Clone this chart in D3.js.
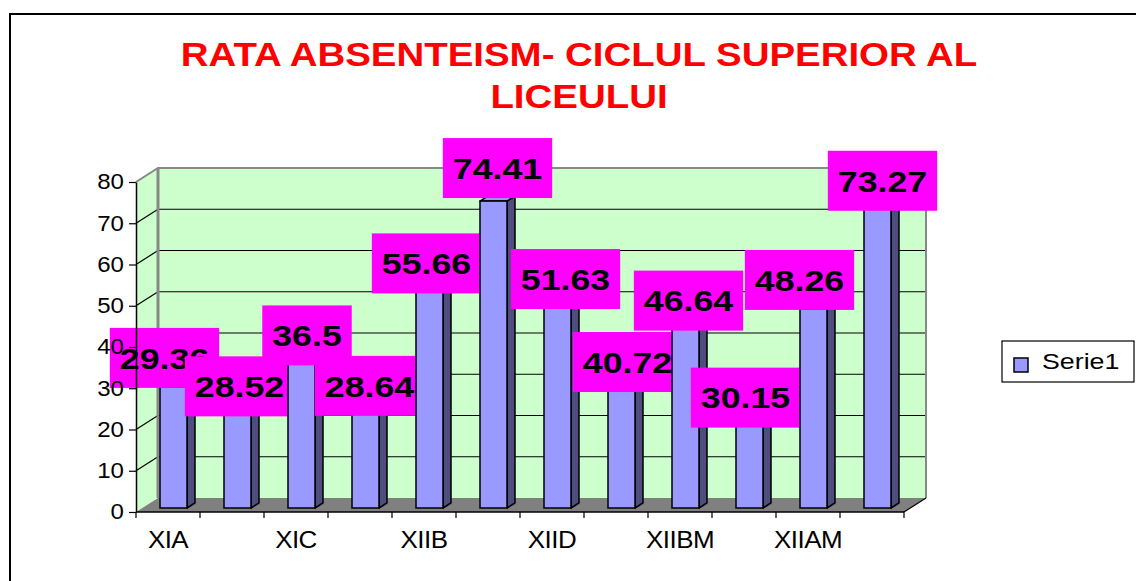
<!DOCTYPE html>
<html>
<head>
<meta charset="utf-8">
<script src="https://cdn.jsdelivr.net/npm/d3@7"></script>
<style>
  body { margin: 0; background: #fff; }
  text { font-family: "Liberation Sans", Arial, sans-serif; }
</style>
</head>
<body>
<div id="chart"></div>
<script>
// chart data
var categories = ["XIA", "XIB", "XIC", "XIIA", "XIIB", "XIIC", "XIID", "XIIE", "XIIBM", "XICM", "XIIAM", "XIIDM"];
var values = [29.36, 28.52, 36.5, 28.64, 55.66, 74.41, 51.63, 40.72, 46.64, 30.15, 48.26, 73.27];
var yTicks = [0, 10, 20, 30, 40, 50, 60, 70, 80];
var seriesName = "Serie1";
var titleLines = ["RATA ABSENTEISM- CICLUL SUPERIOR AL", "LICEULUI"];

// label nudges (the labels were dragged around in the original)
var labelDx = [-13, -2, 1.5, 0, -7, 0, 4, 2, -1, -8, -18, 1];
var labelDy = [-29, -4, -22, -4, -15, -33, -16, 22, -15, 14, -29, -25];

var svgWidth = 1136;
var svgHeight = 581;
var sx = 1.19; // text in the reference is stretched sideways

var svg = d3.select("#chart")
  .append("svg")
  .attr("width", svgWidth)
  .attr("height", svgHeight);

svg.append("rect")
  .attr("width", svgWidth).attr("height", svgHeight)
  .attr("fill", "#fff");

// outer frame
svg.append("rect")
  .attr("x", 10).attr("y", 14)
  .attr("width", 1140).attr("height", 600)
  .attr("fill", "none")
  .attr("stroke", "#000")
  .attr("stroke-width", 2);

// title
titleLines.forEach(function(t, i) {
  svg.append("text")
    .attr("transform", `translate(579, ${66 + i * 42}) scale(${sx},1)`)
    .attr("text-anchor", "middle")
    .attr("font-size", 32.3)
    .attr("font-weight", "bold")
    .attr("fill", "#FF0000")
    .text(t);
});

// 3d geometry
var depthX = 22, depthY = -14;
var x = d3.scaleBand().domain(categories).range([136, 904]);
var y = d3.scaleLinear().domain([0, 80]).range([512, 182]);

var walls = svg.append("g");
// side wall
walls.append("path")
  .attr("d", `M${136},${y(0)} L${136},${y(80)} L${136 + depthX},${y(80) + depthY} L${136 + depthX},${y(0) + depthY} Z`)
  .attr("fill", "#CCFFCC");
// back wall
walls.append("rect")
  .attr("x", 136 + depthX).attr("y", y(80) + depthY)
  .attr("width", 904 - 136).attr("height", y(0) - y(80))
  .attr("fill", "#CCFFCC");

// gridlines
var grid = yTicks.filter(d => d > 0 && d < 80);
walls.selectAll(".gb").data(grid).enter().append("line")
  .attr("x1", 136 + depthX).attr("x2", 904 + depthX)
  .attr("y1", d => y(d) + depthY).attr("y2", d => y(d) + depthY)
  .attr("stroke", "#000").attr("stroke-width", 1.2);
walls.selectAll(".gs").data(grid).enter().append("line")
  .attr("x1", 136).attr("x2", 136 + depthX)
  .attr("y1", d => y(d)).attr("y2", d => y(d) + depthY)
  .attr("stroke", "#000").attr("stroke-width", 1.2);

// wall edges
walls.append("path")
  .attr("d", `M136,${y(80)} L${136 + depthX},${y(80) + depthY} L${904 + depthX},${y(80) + depthY} L${904 + depthX},${y(0) + depthY}`)
  .attr("fill", "none").attr("stroke", "#888").attr("stroke-width", 2);
walls.append("line")
  .attr("x1", 136 + depthX).attr("x2", 136 + depthX)
  .attr("y1", y(80) + depthY).attr("y2", y(0) + depthY)
  .attr("stroke", "#888").attr("stroke-width", 3);

// floor
walls.append("path")
  .attr("d", `M136,${y(0)} L${904},${y(0)} L${904 + depthX},${y(0) + depthY} L${136 + depthX},${y(0) + depthY} Z`)
  .attr("fill", "#808080");
walls.append("line")
  .attr("x1", 904).attr("y1", y(0))
  .attr("x2", 904 + depthX).attr("y2", y(0) + depthY)
  .attr("stroke", "#000").attr("stroke-width", 1.2);

// bars + labels, drawn one after the other like the original
var barW = 27, barInset = 24, bdx = 8, bdy = -5, barLift = 4;
var plot = svg.append("g");

categories.forEach(function(c, i) {
  var v = values[i];
  var bx = x(c) + barInset;
  var base = y(0) - barLift;
  var top = y(v) - barLift;
  var g = plot.append("g");

  g.append("path")
    .attr("d", `M${bx + barW},${top} L${bx + barW + bdx},${top + bdy} L${bx + barW + bdx},${base + bdy} L${bx + barW},${base} Z`)
    .attr("fill", "#4D4D80").attr("stroke", "#000").attr("stroke-width", 1.5).attr("stroke-linejoin", "round");
  g.append("path")
    .attr("d", `M${bx},${top} L${bx + barW},${top} L${bx + barW + bdx},${top + bdy} L${bx + bdx},${top + bdy} Z`)
    .attr("fill", "#9999FF").attr("stroke", "#000").attr("stroke-width", 1.5).attr("stroke-linejoin", "round");
  g.append("rect")
    .attr("x", bx).attr("y", top)
    .attr("width", barW).attr("height", base - top)
    .attr("fill", "#9999FF").attr("stroke", "#000").attr("stroke-width", 1.5);

  // data label
  var cx = bx + barW / 2 + 4 + labelDx[i];
  var cy = top + labelDy[i];
  var box = g.append("rect").attr("fill", "#FF00FF");
  var t = g.append("text")
    .attr("transform", `translate(${cx}, ${cy + 10.8}) scale(${sx},1)`)
    .attr("text-anchor", "middle")
    .attr("font-size", 30)
    .attr("font-weight", "bold")
    .attr("fill", "#000")
    .text(v);
  var bw = t.node().getComputedTextLength() * sx + 20;
  box.attr("x", cx - bw / 2).attr("y", cy - 30)
    .attr("width", bw).attr("height", 60);
});

// value axis
var yAxis = svg.append("g")
  .attr("transform", "translate(136,0)")
  .call(d3.axisLeft(y).tickValues(yTicks).tickSize(7).tickSizeOuter(0).tickPadding(5));
yAxis.select(".domain").attr("stroke", "#000").attr("stroke-width", 1.5);
yAxis.selectAll(".tick line").attr("stroke", "#000").attr("stroke-width", 1.2);
yAxis.selectAll("text")
  .attr("font-size", 21.5)
  .attr("fill", "#000")
  .attr("font-family", "Liberation Sans, Arial, sans-serif")
  .attr("transform", function() {
    var tx = +this.getAttribute("x");
    this.setAttribute("x", 0);
    return `translate(${tx},0) scale(1.12,1)`;
  });

// category axis
var xAxis = svg.append("g");
xAxis.append("line")
  .attr("x1", 136).attr("x2", 904)
  .attr("y1", y(0)).attr("y2", y(0))
  .attr("stroke", "#000").attr("stroke-width", 1.5);
var bounds = categories.map(c => x(c)).concat([x.range()[1]]);
xAxis.selectAll(".xt").data(bounds).enter().append("line")
  .attr("x1", d => d).attr("x2", d => d)
  .attr("y1", y(0)).attr("y2", y(0) + 6)
  .attr("stroke", "#000").attr("stroke-width", 1.2);
xAxis.selectAll(".xl").data(categories.filter((c, i) => i % 2 === 0)).enter().append("text")
  .attr("transform", d => `translate(${x(d) + x.bandwidth() / 2}, 548) scale(1.06,1)`)
  .attr("text-anchor", "middle")
  .attr("font-size", 24.5)
  .attr("letter-spacing", -0.5)
  .attr("fill", "#000")
  .text(d => d);

// legend
var legend = svg.append("g");
legend.append("rect")
  .attr("x", 1002).attr("y", 341)
  .attr("width", 132).attr("height", 41)
  .attr("fill", "#fff").attr("stroke", "#000").attr("stroke-width", 1.2);
legend.append("rect")
  .attr("x", 1014).attr("y", 358)
  .attr("width", 14).attr("height", 14)
  .attr("fill", "#9999FF").attr("stroke", "#000").attr("stroke-width", 1.5);
legend.append("text")
  .attr("transform", `translate(1042, 369) scale(${sx},1)`)
  .attr("font-size", 22.5)
  .attr("fill", "#000")
  .text(seriesName);
</script>
</body>
</html>
